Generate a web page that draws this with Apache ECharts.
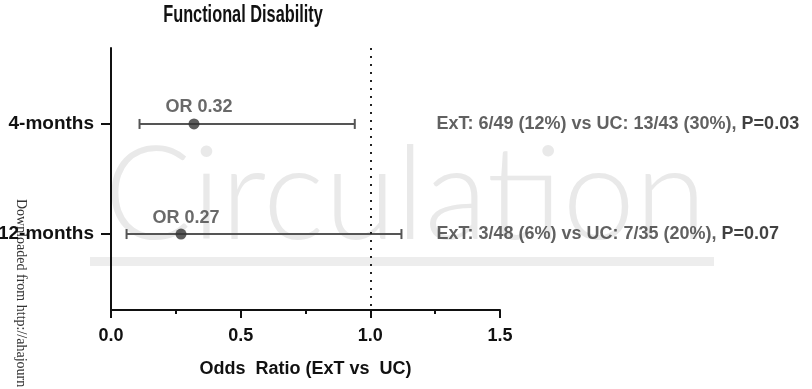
<!DOCTYPE html>
<html><head><meta charset="utf-8">
<script src="https://cdn.jsdelivr.net/npm/echarts@6/dist/echarts.min.js"></script>
<style>html,body{margin:0;padding:0;background:#fff}#c{width:812px;height:389px}</style>
</head><body><div id="c"></div>
<script>
// ---- data ----
const rowLabels = ['4-months', '12-months'];
const rowPos = [1, 2];
const oddsRatio = [0.32, 0.27];
const ciLow = [0.11, 0.06];
const ciHigh = [0.94, 1.12];
const annotText = ['ExT: 6/49 (12%) vs UC: 13/43 (30%), ', 'ExT: 3/48 (6%) vs UC: 7/35 (20%), '];
const pValues = ['P=0.03', 'P=0.07'];
const xMin = 0, xMax = 1.5, xInterval = 0.5;
const refLine = 1.0;
const annotX = 1.255;
const titleText = 'Functional Disability';
const xAxisName = 'Odds  Ratio (ExT vs  UC)';

const FONT = '"Liberation Sans", Arial, Helvetica, sans-serif';
const chart = echarts.init(document.getElementById('c'), null, {renderer: 'canvas'});

const pointData = oddsRatio.map((v, i) => [v, rowPos[i]]);
const ciData = ciLow.map((v, i) => [v, ciHigh[i], rowPos[i]]);
const annotData = rowPos.map((r, i) => ({value: [annotX, r], idx: i}));

chart.setOption({
  animation: false,
  backgroundColor: '#fff',
  graphic: [
    {type: 'rect', z: -10, silent: true, shape: {x: 90, y: 257, width: 624, height: 9}, style: {fill: '#ededed'}},
    {type: 'text', z: -10, silent: true, x: 104, y: 262,
     style: {text: 'Circulation', font: '300 130px Lato, Roboto, "Liberation Sans", sans-serif', fill: '#e9e9e9', textVerticalAlign: 'bottom'}},
    {type: 'text', z: -5, silent: true, x: 14, y: 199, rotation: -Math.PI / 2,
     style: {text: 'Downloaded from http://ahajourn', font: '14px "Liberation Serif", "DejaVu Serif", serif', fill: '#333', textVerticalAlign: 'bottom'}},
    {type: 'text', z: 10, silent: true, x: 243, y: 15, scaleX: 0.68,
     style: {text: titleText, font: 'bold 24px ' + FONT, fill: '#111', textAlign: 'center', textVerticalAlign: 'middle'}}
  ],
  grid: {left: 111, right: 312, top: 48, bottom: 79, containLabel: false, outerBoundsMode: 'none'},
  xAxis: {
    type: 'value', min: xMin, max: xMax, interval: xInterval,
    axisLine: {show: true, onZero: false, lineStyle: {color: '#111', width: 2}},
    axisTick: {show: true, length: 8, lineStyle: {color: '#111', width: 2}},
    minorTick: {show: true, splitNumber: 2, length: 4, lineStyle: {color: '#111', width: 2}},
    splitLine: {show: false}, minorSplitLine: {show: false},
    axisLabel: {formatter: v => v.toFixed(1), fontFamily: FONT, fontWeight: 'bold', fontSize: 18, color: '#111', margin: 17},
    name: xAxisName, nameLocation: 'middle', nameGap: 50,
    nameTextStyle: {fontFamily: FONT, fontWeight: 'bold', fontSize: 18, color: '#111'}
  },
  yAxis: {
    type: 'value', inverse: true, min: 0.31, max: 2.69,
    axisLine: {show: true, onZero: false, lineStyle: {color: '#111', width: 2}},
    axisTick: {show: true, length: 10, customValues: rowPos, lineStyle: {color: '#111', width: 2}},
    axisLabel: {customValues: rowPos, formatter: v => rowLabels[rowPos.indexOf(v)] || '',
      fontFamily: FONT, fontWeight: 'bold', fontSize: 19, color: '#111', margin: 17},
    splitLine: {show: false}
  },
  series: [
    {
      type: 'custom', name: 'CI', data: ciData, z: 2,
      renderItem(params, api) {
        const a = api.coord([api.value(0), api.value(2)]);
        const b = api.coord([api.value(1), api.value(2)]);
        const st = {stroke: '#555', lineWidth: 2};
        return {type: 'group', children: [
          {type: 'line', shape: {x1: a[0], y1: a[1], x2: b[0], y2: b[1]}, style: st},
          {type: 'line', shape: {x1: a[0], y1: a[1] - 5, x2: a[0], y2: a[1] + 5}, style: st},
          {type: 'line', shape: {x1: b[0], y1: b[1] - 5, x2: b[0], y2: b[1] + 5}, style: st}
        ]};
      }
    },
    {
      type: 'scatter', name: 'OR', data: pointData, symbol: 'circle', symbolSize: 11, z: 3,
      itemStyle: {color: '#333'},
      label: {show: true, position: 'top', distance: 2, offset: [5, 0],
        formatter: p => 'OR ' + p.value[0].toFixed(2),
        fontFamily: FONT, fontWeight: 'bold', fontSize: 18, color: '#444'},
      markLine: {silent: true, symbol: 'none', label: {show: false},
        lineStyle: {color: '#222', type: [2, 6], width: 2},
        data: [{xAxis: refLine}]}
    },
    {
      type: 'scatter', name: 'annot', data: annotData, symbolSize: 0, z: 3,
      label: {show: true, position: 'right', distance: 0,
        formatter: p => '{a|' + annotText[p.data.idx] + '}{b|' + pValues[p.data.idx] + '}',
        rich: {
          a: {fontFamily: FONT, fontWeight: 'bold', fontSize: 18, color: '#3a3a3a'},
          b: {fontFamily: FONT, fontWeight: 'bold', fontSize: 18, color: '#111'}
        }}
    }
  ]
});
</script></body></html>
